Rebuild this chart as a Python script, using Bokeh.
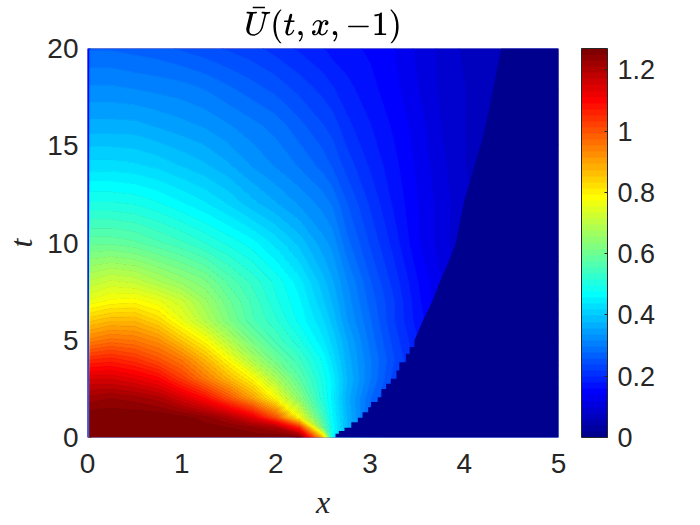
import numpy as np
from bokeh.plotting import figure
from bokeh.models import Range1d, LinearColorMapper, ColorBar, FixedTicker, Title
from bokeh.embed import file_html
from bokeh.resources import INLINE

x_cols = [0.03, .25, .5, .75, 1, 1.25, 1.5, 1.75, 2, 2.25, 2.5, 2.6, 2.75, 3, 3.25, 3.5, 3.75, 4, 4.25, 4.5, 5]
t_rows = [0, .5, 1, 2, 3, 4, 5, 6, 7, 8, 10, 12, 14, 16, 18, 20]

row_t00 = [1.27, 1.27, 1.27, 1.27, 1.27, 1.27, 1.27, 1.27, 1.27, 1.25, .85, .46, .40, .32, .26]
row_t05 = [1.27, 1.27, 1.27, 1.27, 1.27, 1.26, 1.25, 1.23, 1.2, 1.05, .60, .47, .38, .30, .24]
row_t01 = [1.27, 1.27, 1.27, 1.27, 1.26, 1.24, 1.2, 1.13, 1.0, .78, .55, .46, .38, .27, .22]
row_t02 = [1.22, 1.23, 1.22, 1.20, 1.15, 1.09, 1.0, .9, .78, .64, .50, .45, .37, .28, .22]
row_t03 = [1.15, 1.15, 1.13, 1.10, 1.03, .95, .87, .79, .68, .58, .49, .45, .38, .30, .23, .18]
row_t04 = [1.05, 1.06, 1.04, 1.0, .95, .87, .78, .68, .60, .54, .47, .43, .37, .30, .24, .19, .15]
row_t05b = [.94, .96, .95, .92, .85, .78, .69, .61, .55, .50, .44, .41, .36, .29, .23, .18, .14]
row_t06 = [.85, .87, .87, .83, .76, .69, .62, .56, .52, .47, .42, .39, .34, .28, .22, .17, .13]
row_t07 = [.76, .78, .785, .76, .72, .66, .60, .55, .50, .46, .40, .375, .33, .27, .22, .165, .12, .1]
row_t08 = [.70, .72, .71, .68, .65, .62, .57, .53, .49, .445, .385, .36, .32, .26, .21, .16, .12, .09]
row_t10 = [.59, .59, .58, .56, .54, .515, .49, .465, .43, .39, .345, .33, .285, .235, .19, .142, .11, .08, .07]
row_t12 = [.50, .50, .495, .48, .46, .44, .415, .385, .36, .335, .31, .295, .26, .215, .175, .14, .11, .085, .07]
row_t14 = [.425, .425, .42, .41, .395, .38, .36, .335, .315, .295, .27, .255, .23, .195, .165, .135, .105, .08, .07]
row_t16 = [.365, .365, .365, .355, .345, .335, .32, .305, .29, .265, .24, .23, .205, .18, .155, .13, .10, .08, .065, .05]
row_t18 = [.32, .32, .315, .31, .305, .295, .28, .265, .25, .23, .21, .20, .185, .165, .145, .12, .095, .08, .07, .06]
row_t20 = [.275, .275, .27, .265, .255, .245, .235, .225, .21, .195, .18, .17, .165, .155, .14, .115, .095, .075, .065, .06, .06]
all_rows = [row_t00, row_t05, row_t01, row_t02, row_t03, row_t04, row_t05b, row_t06, row_t07, row_t08,
            row_t10, row_t12, row_t14, row_t16, row_t18, row_t20]

edge_value = [0.14] * len(t_rows)

front_t = [0, .19, .33, .5, .79, 1.01, 1.30, 1.56, 1.82, 2.07, 2.5, 2.76, 3.02, 3.44, 3.87, 4.3, 4.65, 4.99]
front_x = [2.587, 2.633, 2.668, 2.728, 2.80, 2.87, 2.92, 2.98, 3.01, 3.08, 3.12, 3.17, 3.22, 3.28, 3.31, 3.38, 3.42, 3.47]
upper_t = [6, 7, 8, 9, 10, 11, 12.2, 13.5, 15.3, 17, 18.5, 20]
upper_x = [3.56, 3.66, 3.74, 3.83, 3.91, 3.95, 4.0, 4.08, 4.19, 4.27, 4.33, 4.39]

x_ticks = [0, 1, 2, 3, 4, 5]
t_ticks = [0, 5, 10, 15, 20]
cb_ticks = [0, .2, .4, .6, .8, 1, 1.2]
z_max = 1.27


def jet(n):
    out = []
    for i in range(n):
        f = (i + 1) / n
        r = np.clip(min(4 * f - 1.5, -4 * f + 4.5), 0, 1)
        g = np.clip(min(4 * f - 0.5, -4 * f + 3.5), 0, 1)
        b = np.clip(min(4 * f + 0.5, -4 * f + 2.5), 0, 1)
        out.append("#%02x%02x%02x" % (int(round(r * 255)), int(round(g * 255)), int(round(b * 255))))
    return out


palette = jet(64)
dark = palette[0]

rows = [r + [r[-1]] * (len(x_cols) - len(r)) for r in all_rows]
z = np.column_stack([edge_value, edge_value, np.array(rows)])
x = np.array([0, 0.018] + x_cols)
y = np.array(t_rows, dtype=float)
levels = list(np.linspace(0, z_max, 65))
levels[-1] = z_max + 0.01

p = figure(width=680, height=505, output_backend="svg", toolbar_location=None,
           x_range=Range1d(0, 5), y_range=Range1d(0, 20),
           min_border_left=80, min_border_right=120, min_border_top=48, min_border_bottom=70)
p.frame_width = 471
p.frame_height = 389
p.grid.visible = False
p.outline_line_color = None
p.background_fill_color = dark

p.contour(x, y, z, levels=levels, fill_color=palette, line_color=palette + [palette[-1]], line_width=1)

stair_x = [v for pair in zip(front_x[:-1], front_x[1:]) for v in pair] + [front_x[-1]] + upper_x
stair_t = [v for pair in zip(front_t[:-1], front_t[:-1]) for v in pair] + [front_t[-1]] + upper_t
p.harea(x1=stair_x, x2=[5] * len(stair_x), y=stair_t, fill_color=dark)

TXT = "#262626"
for ax, ticks in ((p.xaxis[0], x_ticks), (p.yaxis[0], t_ticks)):
    ax.ticker = FixedTicker(ticks=ticks)
    ax.axis_line_color = None
    ax.major_tick_line_color = None
    ax.minor_tick_line_color = None
    ax.major_label_text_font = "Liberation Sans"
    ax.major_label_text_font_size = "28px"
    ax.major_label_text_color = TXT
    ax.axis_label_text_font = "Liberation Serif"
    ax.axis_label_text_font_style = "italic"
    ax.axis_label_text_font_size = "32px"
    ax.axis_label_text_color = TXT
p.xaxis[0].axis_label = "x"
p.yaxis[0].axis_label = "t"
p.xaxis[0].major_label_standoff = 10
p.yaxis[0].major_label_standoff = 3
p.xaxis[0].axis_label_standoff = 8
p.yaxis[0].axis_label_standoff = 5

p.title = Title(text=r"$$\bar{U}(t,x,-1)$$", align="center", text_font_size="27px", text_color="#000000",
                text_font_style="normal", offset=0)

mapper = LinearColorMapper(palette=palette, low=0, high=z_max)
cb = ColorBar(color_mapper=mapper, ticker=FixedTicker(ticks=cb_ticks), width=26, height=389,
              location=(23, 0), padding=0, label_standoff=10,
              major_label_text_font="Liberation Sans", major_label_text_font_size="27px",
              major_label_text_color=TXT, bar_line_color=TXT, bar_line_width=1,
              major_tick_line_color=TXT, major_tick_in=3, major_tick_out=0, minor_tick_line_color=None)
p.add_layout(cb, "right")

open("out.html", "w").write(file_html(p, INLINE))
